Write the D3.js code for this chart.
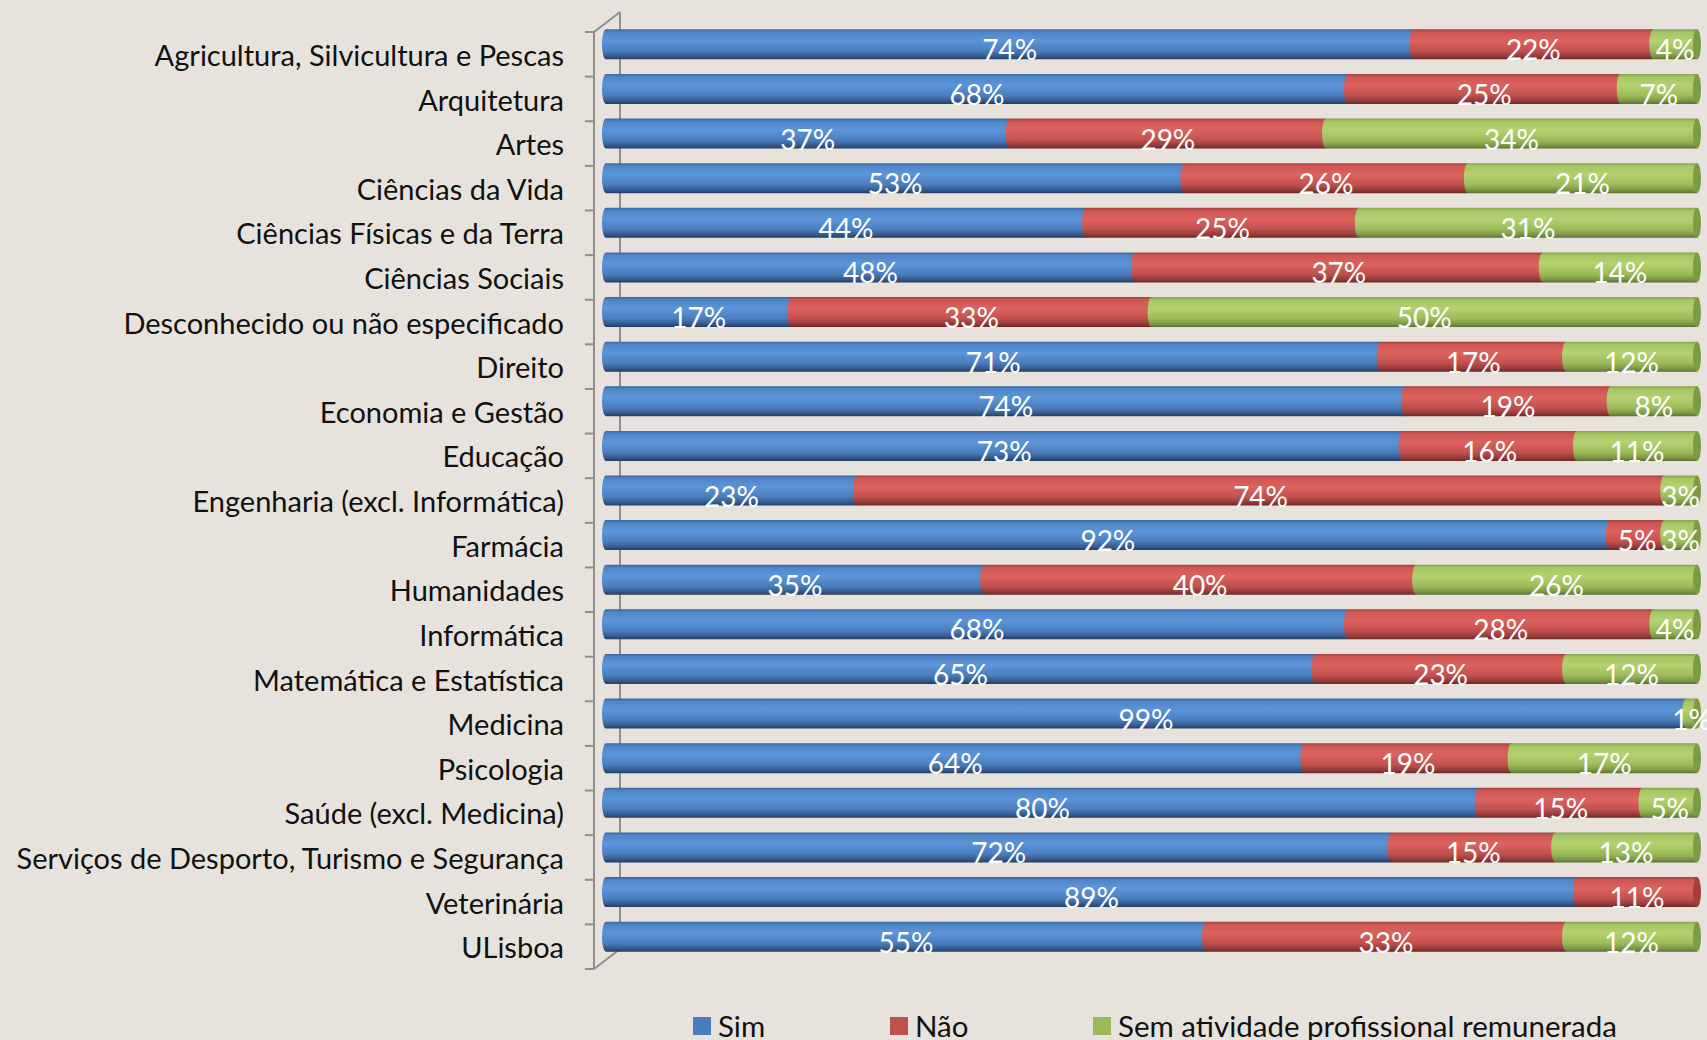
<html><head><script src="https://d3js.org/d3.v7.min.js"></script></head>
<body style="margin:0; background:#e7e3dc;">
<script>
// dados: % de diplomados com atividade profissional relacionada com o curso
categorias = ["Agricultura, Silvicultura e Pescas","Arquitetura","Artes","Ciências da Vida",
  "Ciências Físicas e da Terra","Ciências Sociais","Desconhecido ou não especificado","Direito",
  "Economia e Gestão","Educação","Engenharia (excl. Informática)","Farmácia","Humanidades",
  "Informática","Matemática e Estatística","Medicina","Psicologia","Saúde (excl. Medicina)",
  "Serviços de Desporto, Turismo e Segurança","Veterinária","ULisboa"];
sim = [74,68,37,53,44,48,17,71,74,73,23,92,35,68,65,99,64,80,72,89,55];
nao = [22,25,29,26,25,37,33,17,19,16,74,5,40,28,23,0,19,15,15,11,33];
sem = [4,7,34,21,31,14,50,12,8,11,3,3,26,4,12,1,17,5,13,0,12];
series = ["Sim","Não","Sem atividade profissional remunerada"];

cores = {
  "Sim":["#3a66a0","#4f86c9","#5b95d9","#4a7dbd","#34598c","#223d62"],
  "Não":["#a44140","#cf5753","#dc625e","#c1504d","#933a39","#6a2828"],
  "Sem atividade profissional remunerada":["#86a34a","#a5c664","#b3d26f","#9bbb59","#7b9645","#5a7032"]
};
tampa = {"Sim":"#3f6ca6","Não":"#a3403e","Sem atividade profissional remunerada":"#7d9a45"};

tabela = categorias.map(function(c,i){ return {cat:c, "Sim":sim[i], "Não":nao[i], "Sem atividade profissional remunerada":sem[i]}; });
pilhas = d3.stack().keys(series).offset(d3.stackOffsetExpand)(tabela);

W=1707; H=1040;
x = d3.scaleLinear().domain([0,1]).range([606,1697]);
y = d3.scaleBand().domain(categorias).range([32,969]);
bw = y.bandwidth();
ry = 15; rx = 4; dz = 10;   // raio do cilindro e recuo 3D

svg = d3.select("body").append("svg").attr("width",W).attr("height",H)
  .style("font-family","Lato, 'Open Sans', sans-serif");

defs = svg.append("defs");
series.forEach(function(s,k){
  var g = defs.append("linearGradient").attr("id","g"+k).attr("x1",0).attr("y1",0).attr("x2",0).attr("y2",1);
  [0,0.1,0.38,0.72,0.9,1].forEach(function(o,j){
    g.append("stop").attr("offset",o).attr("stop-color",cores[s][j]);
  });
});

// paredes / eixo
eixo = svg.append("g").attr("stroke","#8e8e8e").attr("stroke-width",2).attr("fill","none");
eixo.append("line").attr("x1",594).attr("y1",y.range()[0]).attr("x2",594).attr("y2",y.range()[1]);
eixo.append("line").attr("x1",620).attr("y1",y.range()[0]-20).attr("x2",620).attr("y2",y.range()[1]-20);
eixo.append("line").attr("x1",594).attr("y1",y.range()[0]).attr("x2",620).attr("y2",y.range()[0]-20);
eixo.append("line").attr("x1",594).attr("y1",y.range()[1]).attr("x2",620).attr("y2",y.range()[1]-20);
limites = categorias.map(function(c){return y(c);}).concat([y.range()[1]]);
eixo.selectAll("line.tick").data(limites).enter().append("line").attr("class","tick")
  .attr("x1",585).attr("x2",594).attr("y1",function(d){return d;}).attr("y2",function(d){return d;});

// rotulos das categorias
svg.selectAll("text.cat").data(categorias).enter().append("text").attr("class","cat")
  .attr("x",564).attr("y",function(d){return y(d)+bw/2;}).attr("dy","0.4em")
  .attr("text-anchor","end").attr("font-size",29).attr("fill","#111")
  .text(function(d){return d;});

cy = function(d){ return y(d.data.cat)+bw/2-dz; };
seg = function(d){
  var a=x(d[0]), b=x(d[1]), t=cy(d)-ry, u=cy(d)+ry;
  return "M"+a+","+t+"L"+b+","+t+"L"+b+","+u+"L"+a+","+u+"A"+rx+","+ry+" 0 0 1 "+a+","+t+"Z";
};

grupos = svg.selectAll("g.serie").data(pilhas).enter().append("g").attr("class","serie")
  .attr("fill",function(d,k){return "url(#g"+k+")";});
grupos.selectAll("path").data(function(d){return d.filter(function(p){return p[1]-p[0]>0;});})
  .enter().append("path").attr("d",seg);

// tampa do cilindro no fim de cada barra
fim = tabela.map(function(r,i){
  var ult = series.filter(function(s){return r[s]>0;}).pop();
  return {cat:r.cat, s:ult};
});
svg.selectAll("ellipse.tampa").data(fim).enter().append("ellipse").attr("class","tampa")
  .attr("cx",x(1)).attr("cy",function(d){return y(d.cat)+bw/2-dz;})
  .attr("rx",rx).attr("ry",ry).attr("fill",function(d){return tampa[d.s];});

// valores
series.forEach(function(s,k){
  svg.append("g").selectAll("text").data(pilhas[k].filter(function(p){return p.data[s]>0;}))
    .enter().append("text")
    .attr("x",function(d){return (x(d[0])+x(d[1]))/2;})
    .attr("y",function(d){return cy(d)+ry+1;})
    .attr("text-anchor","middle").attr("font-size",28).attr("fill","#fff")
    .text(function(d){return d.data[s]+"%";});
});

// legenda
legx = [693,890,1093];
leg = svg.selectAll("g.leg").data(series).enter().append("g").attr("class","leg")
  .attr("transform",function(d,i){return "translate("+legx[i]+",1017)";});
leg.append("rect").attr("width",18).attr("height",18).attr("fill",function(d){return cores[d][3];});
leg.append("text").attr("x",25).attr("y",20).attr("font-size",29.5).attr("fill","#111")
  .text(function(d){return d;});
</script>
</body></html>
